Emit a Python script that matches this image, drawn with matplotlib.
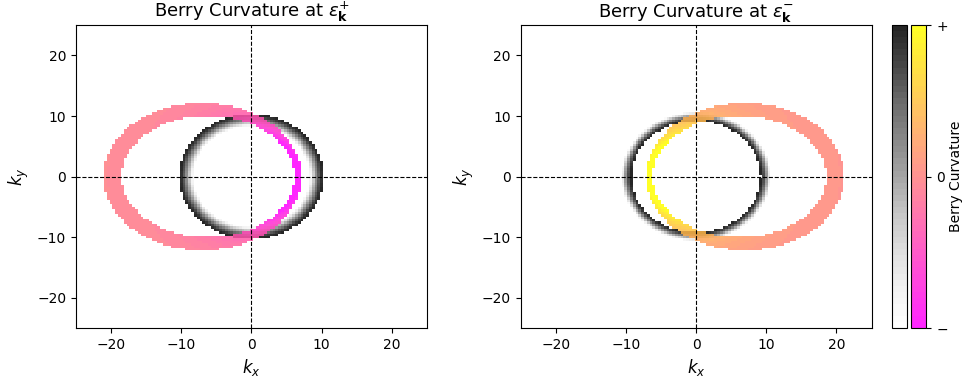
import matplotlib
matplotlib.use('Agg')
import matplotlib.pyplot as plt
import numpy as np

# k-space grid (cell edges)
k_lim = 25.0
dk = 0.4

# colored Fermi ring: outer / inner ellipse (center x, semi-axis a, semi-axis b)
ring_outer = [-7.0, 14.1, 12.2]
ring_inner = [-6.2, 12.3, 10.0]
ring_scale = 7.0          # curvature saturates for |k| below this

# grey ring: (inner radius, outer radius) for each panel
grey_plus = [8.3, 10.3]   # dark at outer edge
grey_minus = [9.2, 10.6]  # dark at inner edge

titles = [r'Berry Curvature at $\varepsilon_{\mathbf{k}}^{+}$',
          r'Berry Curvature at $\varepsilon_{\mathbf{k}}^{-}$']
cbar_ticks = [-1, 0, 1]
cbar_ticklabels = ['\u2212', '0', '+']

edges = np.arange(-k_lim, k_lim + dk / 2, dk)
cent = 0.5 * (edges[:-1] + edges[1:])
KX, KY = np.meshgrid(cent, cent)
R = np.hypot(KX, KY)


def colored_ring(sign):
    cx, a, b = ring_outer
    cxi, ai, bi = ring_inner
    cx, cxi = sign * cx, sign * cxi
    inside_out = ((KX - cx) / a) ** 2 + (KY / b) ** 2 <= 1
    outside_in = ((KX - cxi) / ai) ** 2 + (KY / bi) ** 2 > 1
    val = np.clip(-sign * (ring_scale / R) ** 3, -1, 1)
    return np.ma.masked_where(~(inside_out & outside_in), val)


def grey_ring(rr, dark_outer):
    r0, r1 = rr
    t = (R - r0) / (r1 - r0)
    if not dark_outer:
        t = 1 - t
    val = 1 - 2 * np.clip(1 - t, 0, 1) ** 1.5
    return np.ma.masked_where((R < r0) | (R > r1), val)


grey_cmap = plt.get_cmap('Greys').resampled(50)
ring_cmap = plt.get_cmap('spring').resampled(50)

fig = plt.figure(figsize=(9.63, 3.8), dpi=100)
ax1 = fig.add_axes([0.0789, 0.1368, 0.3645, 0.797])
ax2 = fig.add_axes([0.5405, 0.1368, 0.3645, 0.797])
cax1 = fig.add_axes([0.9258, 0.1368, 0.0156, 0.797])
cax2 = fig.add_axes([0.9460, 0.1368, 0.0160, 0.797])

panels = [(ax1, 1, grey_plus, True), (ax2, -1, grey_minus, False)]
for (ax, sign, gr, dark_outer), title in zip(panels, titles):
    mg = ax.pcolormesh(edges, edges, grey_ring(gr, dark_outer), cmap=grey_cmap,
                       vmin=-1, vmax=1, alpha=0.85, shading='flat')
    mc = ax.pcolormesh(edges, edges, colored_ring(sign), cmap=ring_cmap,
                       vmin=-1, vmax=1, alpha=0.85, shading='flat',
                       antialiased=True)
    ax.axhline(0, color='k', ls='--', lw=0.8)
    ax.axvline(0, color='k', ls='--', lw=0.8)
    ax.set_xlim(-k_lim, k_lim)
    ax.set_ylim(-k_lim, k_lim)
    ax.set_xticks([-20, -10, 0, 10, 20])
    ax.set_yticks([-20, -10, 0, 10, 20])
    ax.set_xlabel(r'$k_x$', fontsize=12)
    ax.set_ylabel(r'$k_y$', fontsize=12)
    ax.set_title(title, fontsize=13)

cb1 = fig.colorbar(mg, cax=cax1)
cb1.set_ticks([])
cb2 = fig.colorbar(mc, cax=cax2, ticks=cbar_ticks)
cb2.set_ticklabels(cbar_ticklabels)
cb2.set_label('Berry Curvature', labelpad=1)
for cb in (cb1, cb2):
    cb.solids.set_antialiased(True)

fig.savefig('out.png', dpi=100)
